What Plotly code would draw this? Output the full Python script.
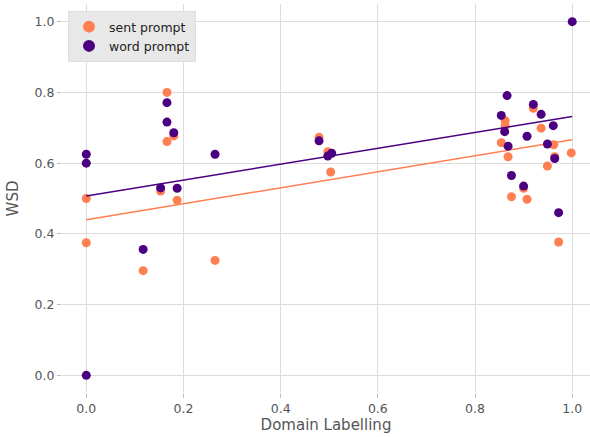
import plotly.graph_objects as go

# Sent prompt (orange)
sent_x = [0, 0, 0.117, 0.153, 0.166, 0.166, 0.180, 0.187, 0.265, 0.479, 0.497, 0.503,
          0.854, 0.862, 0.862, 0.868, 0.875, 0.900, 0.907, 0.920, 0.936, 0.949, 0.962,
          0.964, 0.972, 0.998]
sent_y = [0.500, 0.375, 0.296, 0.521, 0.800, 0.661, 0.677, 0.495, 0.325, 0.673, 0.632, 0.575,
          0.658, 0.720, 0.705, 0.618, 0.505, 0.529, 0.498, 0.755, 0.699, 0.592, 0.652,
          0.618, 0.377, 0.629]

# Word prompt (purple)
word_x = [0, 0, 0, 0.117, 0.153, 0.166, 0.166, 0.180, 0.187, 0.265, 0.479, 0.497, 0.505,
          0.854, 0.861, 0.866, 0.868, 0.875, 0.900, 0.907, 0.920, 0.936, 0.949, 0.961,
          0.964, 0.972, 1.0]
word_y = [0.625, 0.600, 0.0, 0.356, 0.530, 0.771, 0.716, 0.686, 0.529, 0.625, 0.663, 0.620, 0.628,
          0.735, 0.689, 0.791, 0.648, 0.565, 0.535, 0.676, 0.766, 0.738, 0.654, 0.706,
          0.613, 0.460, 1.0]

# Regression lines (endpoints)
fit_x = [0.0, 1.0]
sent_fit = [0.440, 0.666]
word_fit = [0.507, 0.732]

tick_vals = [0.0, 0.2, 0.4, 0.6, 0.8, 1.0]
tick_text = ["0.0", "0.2", "0.4", "0.6", "0.8", "1.0"]

ORANGE = "#FF7F50"
PURPLE = "#4B0082"
FONT = "DejaVu Sans"

fig = go.Figure()
fig.add_trace(go.Scatter(x=sent_x, y=sent_y, mode="markers", name="sent prompt",
                         marker=dict(color=ORANGE, size=9, line=dict(width=0))))
fig.add_trace(go.Scatter(x=fit_x, y=sent_fit, mode="lines", showlegend=False,
                         line=dict(color=ORANGE, width=1.5)))
fig.add_trace(go.Scatter(x=word_x, y=word_y, mode="markers", name="word prompt",
                         marker=dict(color=PURPLE, size=9, line=dict(width=0))))
fig.add_trace(go.Scatter(x=fit_x, y=word_fit, mode="lines", showlegend=False,
                         line=dict(color=PURPLE, width=1.5)))

W, H = 590, 437
ml, mr, mt, mb = 62, 0, 4, 44
axis_common = dict(
    showgrid=True, gridcolor="#dcdcdc", gridwidth=1, zeroline=False,
    showline=False, ticks="outside", ticklen=4, tickcolor="#bbbbbb", tickwidth=1,
    tickfont=dict(family=FONT, size=12.5, color="#555555"),
    tickvals=tick_vals, ticktext=tick_text, automargin=False,
)
fig.update_layout(
    width=W, height=H,
    margin=dict(l=ml, r=mr, t=mt, b=mb, pad=0, autoexpand=False),
    paper_bgcolor="white", plot_bgcolor="white",
    font=dict(family=FONT, color="#555555"),
    xaxis=dict(range=[-0.05, 1.0366], title=dict(text="Domain Labelling",
               font=dict(family=FONT, size=15, color="#555555"), standoff=2),
               **axis_common),
    yaxis=dict(range=[-0.05, 1.05], title=dict(text="WSD",
               font=dict(family=FONT, size=15, color="#555555"), standoff=12),
               **axis_common),
    legend=dict(x=(68 - ml) / (W - ml - mr), y=1 - (11 - mt) / (H - mt - mb),
                xanchor="left", yanchor="top",
                bgcolor="#e8e8e8", bordercolor="#dedede", borderwidth=1,
                font=dict(family=FONT, size=12.5, color="#222222"),
                itemsizing="constant", tracegroupgap=0),
    showlegend=True,
)

fig.write_html("out.html",
               config={"displayModeBar": False},
               post_script="document.body.style.margin='0px';document.body.style.overflow='hidden';")
